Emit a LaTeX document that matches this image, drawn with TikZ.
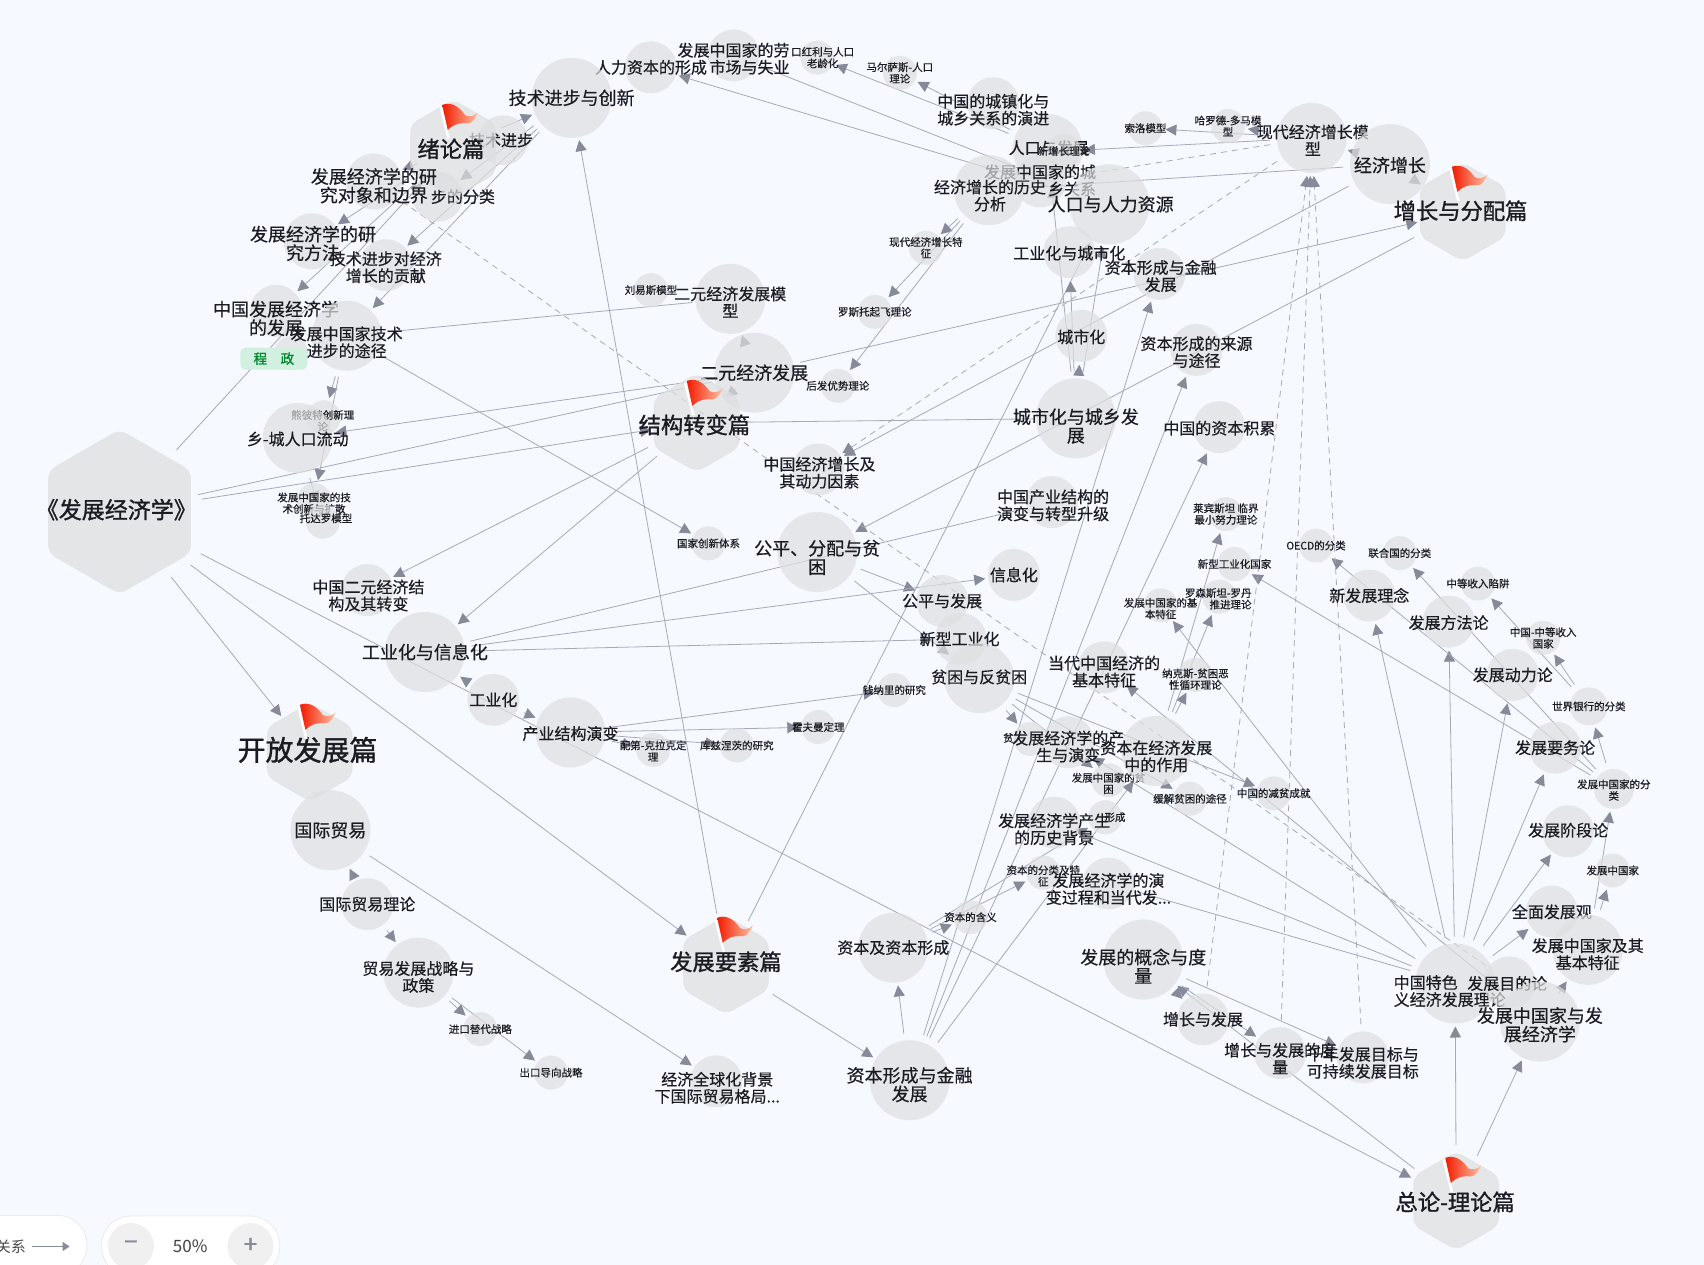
\documentclass[tikz,border=0pt]{standalone}
\usepackage{fontspec}
\setmainfont{Noto Sans CJK SC}[FakeBold=0.4]
\newfontfamily\chapfont{Noto Sans CJK SC}[FakeBold=1.2]
\newfontfamily\plainfont{Noto Sans CJK SC}
\usetikzlibrary{shapes.geometric,arrows.meta}
\pgfdeclarelayer{bgr}\pgfdeclarelayer{edges}\pgfsetlayers{bgr,edges,main}
\definecolor{pagebg}{HTML}{F6F9FF}
\definecolor{discfill}{HTML}{DEDFE0}
\definecolor{linec}{HTML}{A6AAB7}
\definecolor{tipc}{HTML}{878A99}
\definecolor{inkc}{HTML}{1A1C22}
\tikzset{
 disc/.style={circle,fill=discfill,fill opacity=.7,inner sep=0pt,outer sep=0pt},
 hexa/.style={regular polygon,regular polygon sides=6,shape border rotate=30,fill=discfill,fill opacity=.72,draw=discfill,draw opacity=.5,line width=1pt,rounded corners=8pt,inner sep=0pt,outer sep=0pt},
 lbl/.style={text=inkc,align=center,inner sep=0pt},
 f28/.style={font=\fontsize{28}{30}\selectfont\chapfont},
 f22/.style={font=\fontsize{22.3}{24}\selectfont\chapfont},
 f23/.style={font=\fontsize{23}{24}\selectfont\chapfont},
 f18/.style={font=\fontsize{18}{18.6}\selectfont},
 f16/.style={font=\fontsize{16}{17}\selectfont},
 f10/.style={font=\fontsize{10.5}{11.5}\selectfont},
 conn/.style={draw=linec,line width=.8pt,shorten >=3pt,shorten <=7pt,-{Triangle[length=11pt,width=11pt,color=tipc]}},
 plainconn/.style={draw=linec,line width=.8pt,shorten >=3pt,shorten <=7pt},
 dashconn/.style={conn,dash pattern=on 6pt off 5pt},
 dashplain/.style={plainconn,dash pattern=on 6pt off 5pt},
 pill/.style={fill=white,draw=black!8,line width=.8pt,rounded corners=29pt,inner sep=0pt},
}
% id, centre, diameter, label position, font style, text
\newcommand\cn[6]{\node[disc,minimum size=#3pt] (#1) at (#2) {};\node[lbl,#5] (#1t) at (#4) {#6};}
\newcommand\hx[6]{\node[hexa,minimum size=#3pt] (#1) at (#2) {};\node[lbl,#5] (#1t) at (#4) {#6};}
\newcommand\flagat[2]{\begin{scope}[shift={(#1,#2)}]
 \draw[white,line width=2.6pt] (-1.5,3) -- (6,33);
 \path[left color=red!78!orange!95!black,right color=red!35!orange!35!white]
 (0,1.5) .. controls (7,-1) and (14,1) .. (21,11) .. controls (25,13) and (29,12) .. (33,8.5)
 .. controls (30,14) and (28,18) .. (24,18.5) .. controls (18,18) and (12,18) .. (5,24.5) -- cycle;
 \end{scope}}
\begin{document}
\begin{tikzpicture}[x=1.0867pt,y=-1.0867pt]
\path[use as bounding box] (0,0) rectangle (1568,1164);
\begin{pgfonlayer}{bgr}\fill[pagebg] (0,0) rectangle (1568,1164);\end{pgfonlayer}
% ---- nodes, back to front
\cn{rkfz}{964,137}{70}{965,136}{f16}{人口与发展}
\cn{ldl}{675,51}{52}{675,54}{f16,align=right}{发展中国家的劳\\市场与失业}
\cn{rkhl}{752,53}{34}{757,53}{f10}{口红利与人口\\老龄化}
\cn{rlzb}{599,62}{52}{599,62}{f16}{人力资本的形成}
\cn{mes}{828,67}{34}{828,67}{f10}{马尔萨斯-人口\\理论}
\cn{czh}{914,95}{52}{914,101}{f16}{中国的城镇化与\\城乡关系的演进}
\cn{xzz}{979,139}{34}{979,139}{f10}{新增长理论}
\cn{cxgx}{957,167}{52}{957,166}{f16,align=right}{发展中国家的城\\乡关系}
\cn{lsfx}{910,175}{70}{911,180}{f16}{经济增长的历史\\分析}
\cn{rkzy}{1021,188}{80}{1022,188}{f18}{人口与人力资源}
\cn{gycs}{984,232}{52}{984,233}{f16}{工业化与城市化}
\cn{zbt}{1067,252}{52}{1068,254}{f16}{资本形成与金融\\发展}
\cn{csh}{995,309}{52}{995,310}{f16}{城市化}
\cn{zbly}{1101,322}{52}{1101,324}{f16}{资本形成的来源\\与途径}
\cn{cxfz}{990,385}{80}{990,392}{f18}{城市化与城乡发\\展}
\cn{zbjl}{1122,393}{52}{1122,394}{f16}{中国的资本积累}
\cn{xd}{1207,127}{70}{1208,129}{f16}{现代经济增长模\\型}
\cn{jjzz}{1279,151}{80}{1279,152}{f18}{经济增长}
\cn{sl}{1054,118}{34}{1054,118}{f10}{索洛模型}
\cn{hrd}{1130,116}{34}{1130,116}{f10}{哈罗德-多马模\\型}
\hx{zz}{1346,195}{98}{1344,194}{f22}{增长与分配篇}
\cn{jsc}{526,90}{80}{526,90}{f18}{技术进步与创新}
\cn{js}{463,129}{50}{461,129}{f16}{技术进步}
\cn{jsfl}{403,181}{50}{426,181}{f16}{步的分类}
\hx{xu}{417,137}{98}{415,137}{f22}{绪论篇}
\cn{dx}{344,167}{56}{344,171}{f18}{发展经济学的研\\究对象和边界}
\cn{ff}{287,222}{56}{288,224}{f18}{发展经济学的研\\究方法}
\cn{gx}{355,244}{52}{355,246}{f16}{技术进步对经济\\增长的贡献}
\cn{zgfz}{254,286}{52}{254,293}{f18}{中国发展经济学\\的发展}
\cn{blank}{268,325}{34}{268,325}{f10}{}
\cn{tj}{319,309}{70}{319,315}{f16}{发展中国家技术\\进步的途径}
\node[fill=green!35!teal!18!white,rounded corners=5pt,minimum width=67pt,minimum height=22pt,inner sep=0pt,text=green!50!teal!70!black,font=\fontsize{13.5}{14}\selectfont\chapfont] (badge) at (252,330) {程　政};
\cn{ly}{599,267}{34}{599,267}{f10}{刘易斯模型}
\cn{eym}{672,275}{70}{672,278}{f16}{二元经济发展模\\型}
\cn{ey}{694,343}{80}{694,343}{f18}{二元经济发展}
\hx{jg}{641,389}{98}{639,391}{f22}{结构转变篇}
\cn{xdtz}{852,228}{34}{852,228}{f10}{现代经济增长特\\征}
\cn{lst}{805,287}{34}{805,287}{f10}{罗斯托起飞理论}
\cn{hf}{771,355}{34}{771,355}{f10}{后发优势理论}
\cn{xbt}{298,384}{34}{297,387}{f10}{熊彼特创新理\\论}
\cn{xc}{274,403}{70}{274,404}{f16}{乡-城人口流动}
\cn{kscx}{289,460}{34}{289,463}{f10}{发展中国家的技\\术创新与扩散}
\cn{tdl}{297,480}{34}{300,477}{f10}{托达罗模型}
\cn{gjcx}{652,500}{34}{652,500}{f10}{国家创新体系}
\cn{zgzz}{753,432}{52}{754,435}{f16}{中国经济增长及\\其动力因素}
\cn{gpfp}{752,508}{80}{752,513}{f18}{公平、分配与贫\\困}
\cn{cyjg}{968,462}{52}{969,465}{f16}{中国产业结构的\\演变与转型升级}
\cn{xxh}{933,529}{52}{933,529}{f16}{信息化}
\cn{gpfz}{867,553}{52}{867,553}{f16}{公平与发展}
\cn{xxgy}{884,588}{52}{883,588}{f16}{新型工业化}
\cn{pk}{901,624}{70}{901,623}{f16}{贫困与反贫困}
\cn{qnl}{823,635}{34}{823,635}{f10}{钱纳里的研究}
\cn{hfm}{753,669}{34}{753,669}{f10}{霍夫曼定理}
\cn{pd}{601,690}{34}{601,691}{f10}{配第-克拉克定\\理}
\cn{kzn}{678,686}{34}{678,686}{f10}{库兹涅茨的研究}
\cn{cyyb}{525,674}{70}{525,675}{f16}{产业结构演变}
\cn{gyh}{454,644}{52}{454,644}{f16}{工业化}
\cn{gyxx}{391,600}{80}{391,600}{f18}{工业化与信息化}
\cn{eyzh}{338,543}{52}{339,548}{f16}{中国二元经济结\\构及其转变}
\hx{kf}{285,692}{98}{283,690}{f28}{开放发展篇}
\cn{gjmy}{304,764}{80}{304,764}{f18}{国际贸易}
\cn{mylr}{338,832}{52}{338,832}{f16}{国际贸易理论}
\cn{mydl}{385,895}{70}{385,899}{f16}{贸易发展战略与\\政策}
\cn{jktd}{442,947}{34}{442,947}{f10}{进口替代战略}
\cn{cktd}{507,987}{34}{507,987}{f10}{出口导向战略}
\cn{qqh}{659,995}{52}{660,1001}{f16}{经济全球化背景\\下国际贸易格局...}
\hx{ys}{668,888}{98}{668,885}{f22}{发展要素篇}
\cn{zbxc}{822,872}{70}{822,872}{f16}{资本及资本形成}
\cn{zbb}{837,994}{80}{837,998}{f18}{资本形成与金融\\发展}
\cn{zbhy}{893,844}{34}{893,844}{f10}{资本的含义}
\cn{zbfl}{960,803}{34}{960,806}{f10}{资本的分类及特\\征}
\cn{zbxcl}{1017,752}{34}{1026,752}{f10}{形成}
\cn{lsbj}{970,757}{52}{970,763}{f16}{发展经济学产生\\的历史背景}
\cn{yb}{1020,813}{52}{1020,818}{f16}{发展经济学的演\\变过程和当代发...}
\cn{pin}{948,680}{34}{928,679}{f10}{贫}
\cn{fzpk}{1020,718}{34}{1020,721}{f10}{发展中国家的贫\\困}
\cn{cs}{983,683}{52}{983,687}{f16}{发展经济学的产\\生与演变}
\cn{zbzy}{1064,691}{70}{1064,696}{f16}{资本在经济发展\\中的作用}
\cn{hj}{1095,735}{34}{1095,735}{f10}{缓解贫困的途径}
\cn{jp}{1172,730}{34}{1172,730}{f10}{中国的减贫成就}
\cn{ddtz}{1016,614}{52}{1016,618}{f16}{当代中国经济的\\基本特征}
\cn{nks}{1100,621}{34}{1100,625}{f10}{纳克斯-贫困恶\\性循环理论}
\cn{jbtz}{1068,557}{34}{1068,560}{f10}{发展中国家的基\\本特征}
\cn{lsd}{1122,549}{34}{1121,551}{f10,align=right}{罗森斯坦-罗丹\\推进理论}
\cn{xgy}{1136,519}{34}{1136,519}{f10}{新型工业化国家}
\cn{lbs}{1128,473}{34}{1128,473}{f10}{莱宾斯坦 临界\\最小努力理论}
\cn{oecd}{1211,502}{34}{1211,502}{f10}{OECD的分类}
\cn{lhg}{1288,509}{34}{1288,509}{f10}{联合国的分类}
\cn{zdx}{1360,537}{34}{1360,537}{f10}{中等收入陷阱}
\cn{zgzd}{1420,587}{34}{1420,587}{f10}{中国-中等收入\\国家}
\cn{sjyh}{1462,650}{38}{1462,650}{f10}{世界银行的分类}
\cn{xfz}{1260,548}{52}{1260,548}{f16}{新发展理念}
\cn{fff}{1333,572}{52}{1333,573}{f16}{发展方法论}
\cn{dll}{1392,621}{52}{1392,621}{f16}{发展动力论}
\cn{ywl}{1431,688}{52}{1431,688}{f16}{发展要务论}
\cn{fzfl}{1485,726}{40}{1485,727}{f10}{发展中国家的分\\类}
\cn{jdl}{1443,765}{52}{1443,764}{f16}{发展阶段论}
\cn{fzgj}{1484,801}{34}{1484,801}{f10}{发展中国家}
\cn{qm}{1428,839}{52}{1428,839}{f16}{全面发展观}
\cn{jq}{1461,874}{70}{1461,878}{f16}{发展中国家及其\\基本特征}
\cn{zs}{1339,905}{80}{1334,912}{f16,align=left}{中国特色\\义经济发展理论}
\cn{mdl}{1389,904}{52}{1387,905}{f16}{发展目的论}
\cn{fzjj}{1417,940}{80}{1417,943}{f18}{发展中国家与发\\展经济学}
\cn{gn}{1052,883}{80}{1052,889}{f18}{发展的概念与度\\量}
\cn{zf}{1107,938}{52}{1107,938}{f16}{增长与发展}
\cn{dl}{1178,969}{52}{1178,974}{f16}{增长与发展的度\\量}
\cn{qn}{1254,973}{52}{1254,978}{f16}{千年发展目标与\\可持续发展目标}
\hx{zl}{1340,1105}{98}{1339,1106}{f22}{总论-理论篇}
\node[hexa,minimum size=165pt,draw=none,fill opacity=.75] (root) at (110,471) {};
\node[lbl,f23] (roott) at (107,469) {《发展经济学》};
\flagat{407}{95}\flagat{1336}{152}\flagat{632}{349}\flagat{276}{647}\flagat{660}{843}\flagat{1330}{1064}
% ---- connectors
\begin{pgfonlayer}{edges}
\foreach \a/\b in {root/kf,root/ys,root/zl,root/xu,root/jg}
 \draw[conn,shorten <=11pt] (\a) -- (\b);
\foreach \a/\b in {ey/zz,
 xu/dx,xu/ff,xu/zgfz,xu/jsc,jsc/jsfl,jsc/gx,jsc/tj,ys/jsc,ys/rkzy,ys/zbb,
 tj/xbt,tj/kscx,tj/gjcx,xc/tdl,ey/xc,ey/eym,jg/eyzh,jg/gyxx,jg/ey,
 zz/jjzz,jjzz/zgzz,zz/gpfp,jjzz/xd,xd/sl,xd/hrd,xd/xzz,lsfx/xdtz,lsfx/lst,lsfx/hf,
 cxfz/rkfz,cxfz/rkzy,cxfz/csh,cxfz/gycs,rkzy/rlzb,rkfz/rkhl,rkfz/mes,
 zbb/zbt,zbb/zbly,zbb/zbjl,zbb/zbzy,zbb/zbxc,zbxc/zbhy,zbxc/zbfl,zbxc/zbxcl,
 zbzy/nks,zbzy/lbs,zbzy/lsd,zs/xfz,zs/fff,zs/dll,zs/ywl,zs/jdl,zs/qm,zs/jbtz,zs/cs,
 zl/zs,zl/fzjj,zl/gn,gn/dl,gn/qn,gn/zf,fzjj/jq,fzjj/ddtz,jq/fzgj,jq/fzfl,
 fzfl/sjyh,fzfl/oecd,fzfl/lhg,fzfl/xgy,sjyh/zdx,sjyh/zgzd,
 pk/jp,pk/hj,pk/fzpk,pk/pin,gpfp/pk,gpfp/gpfz,gyxx/xxh,gyxx/xxgy,gyh/gyxx,gyh/cyyb,
 cyyb/qnl,cyyb/hfm,cyyb/pd,cyyb/kzn,gjmy/qqh,mylr/gjmy,mylr/mydl,mydl/jktd,mydl/cktd}
 \draw[conn] (\a) -- (\b);
\foreach \a/\b in {root/ey,jg/cxfz,jjzz/lsfx,rkzy/ldl,zs/lsbj,zs/yb,gyxx/cyjg,tj/eym}
 \draw[plainconn] (\a) -- (\b);
\foreach \a/\b in {xd/zgzz,zf/xd,dl/xd,qn/xd}
 \draw[dashconn] (\a) -- (\b);
\foreach \a/\b in {dx/mdl,xd/cxgx}
 \draw[dashplain] (\a) -- (\b);
\end{pgfonlayer}
% ---- bottom controls
\node[pill,minimum width=150pt,minimum height=60pt] (legendpill) at (11,1146) {};
\node[anchor=east,inner sep=0pt,text=black!70,font=\fontsize{15}{16}\selectfont\plainfont] (legendtext) at (24,1147) {关系};
\coordinate (lega) at (29,1147);\coordinate (legb) at (64,1147);
\draw[tipc,line width=1.6pt,-{Triangle[length=7pt,width=9pt]}] (lega) -- (legb);
\node[pill,minimum width=178pt,minimum height=60pt] (zoompill) at (175.5,1146.6) {};
\node[circle,fill=black!6,minimum size=46pt,inner sep=0pt] (zoomminus) at (120.5,1146.6) {};
\node[circle,fill=black!6,minimum size=46pt,inner sep=0pt] (zoomplus) at (230.5,1146.6) {};
\node[text=tipc,font=\fontsize{24}{24}\selectfont\chapfont,inner sep=0pt] (minusmark) at (120.5,1146) {−};
\node[text=tipc,font=\fontsize{24}{24}\selectfont\chapfont,inner sep=0pt] (plusmark) at (230.5,1146) {+};
\node[text=black!75,font=\fontsize{17}{18}\selectfont\plainfont,inner sep=0pt] (zoomtext) at (175,1147) {50\%};
\end{tikzpicture}
\end{document}
